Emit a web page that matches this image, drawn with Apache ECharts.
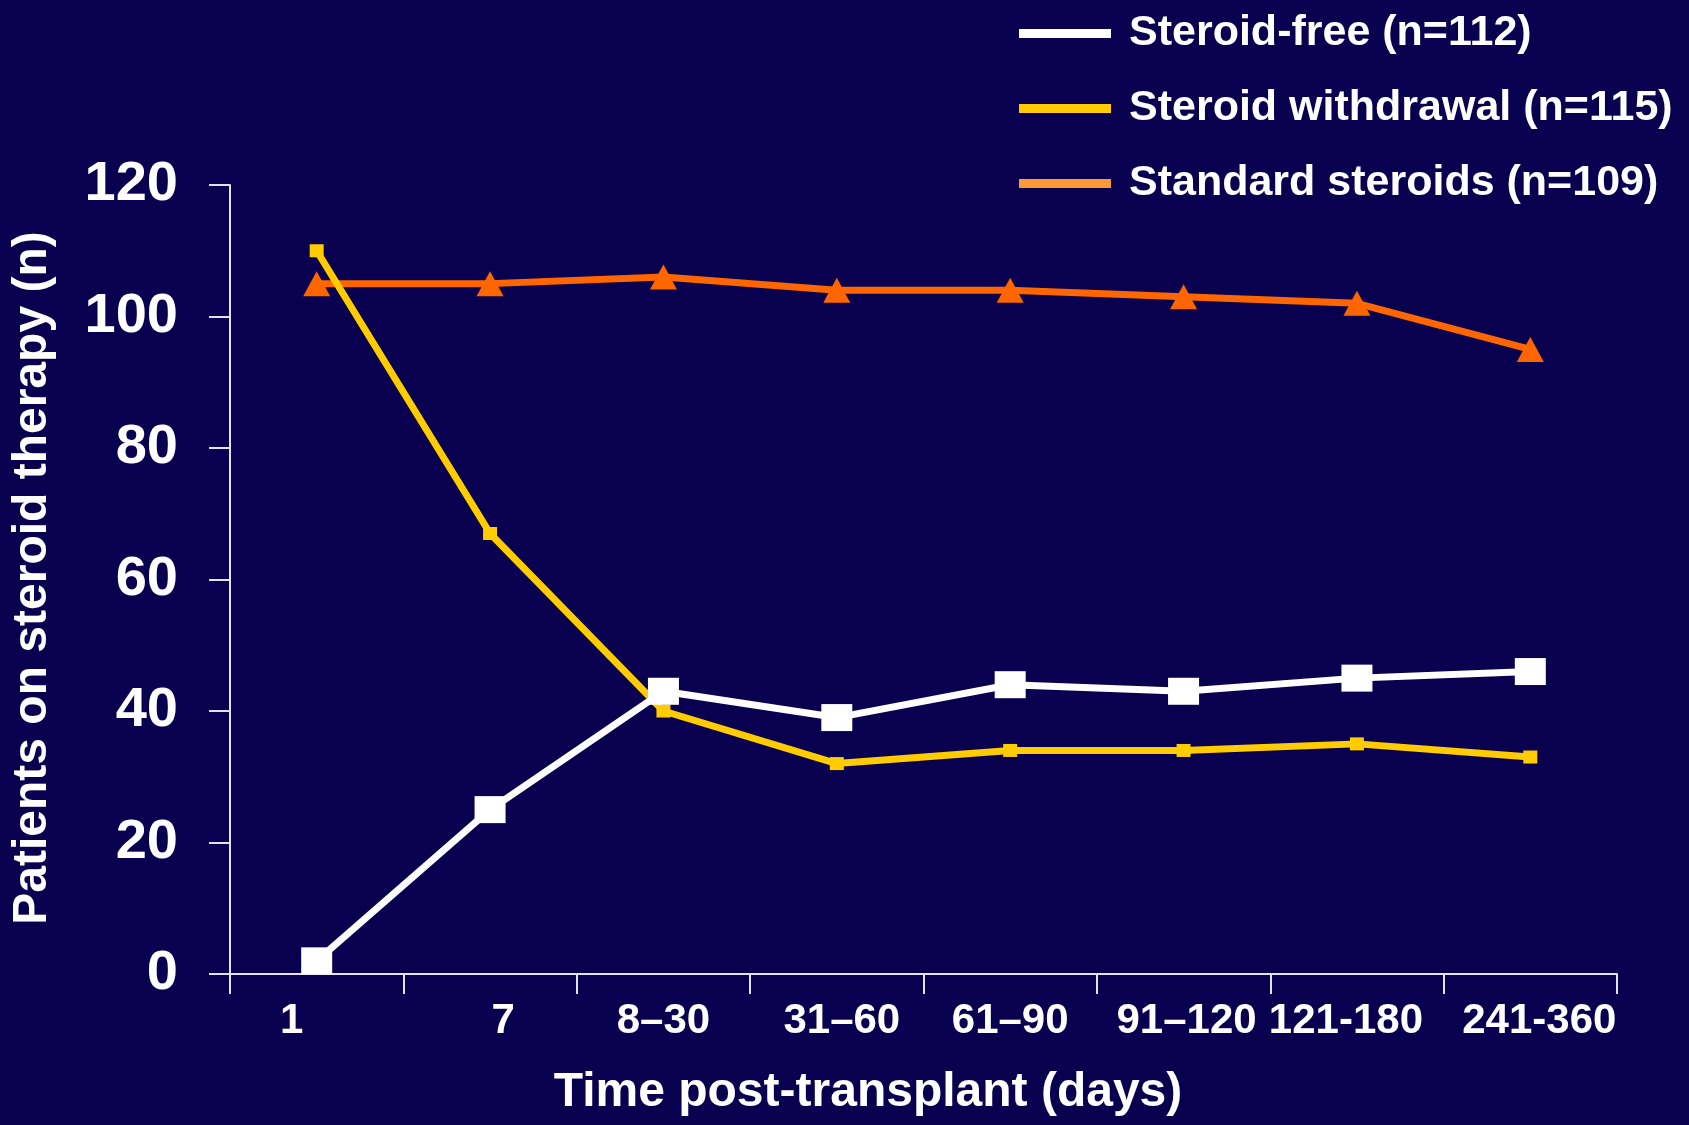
<!DOCTYPE html>
<html>
<head>
<meta charset="utf-8">
<title>Patients on steroid therapy</title>
<script src="https://cdn.jsdelivr.net/npm/echarts@6/dist/echarts.min.js"></script>
<style>
  html, body { margin: 0; padding: 0; background: #0a0050; }
  #chart { width: 1689px; height: 1125px; }
</style>
</head>
<body>
<div id="chart"></div>
<script>
// Time windows after transplant (days)
const categories = ['1', '7', '8–30', '31–60', '61–90', '91–120', '121-180', '241-360'];

// Patients on steroid therapy (n) per arm
const steroidFree = [2, 25, 43, 39, 44, 43, 45, 46];
const steroidWithdrawal = [110, 67, 40, 32, 34, 34, 35, 33];
const standardSteroids = [105, 105, 106, 104, 104, 103, 102, 95];

const seriesNames = ['Steroid-free (n=112)', 'Steroid withdrawal (n=115)', 'Standard steroids (n=109)'];

const FONT = '"Liberation Sans", Arial, sans-serif';
const AXIS_COLOR = '#e4e2f0';

// Horizontal nudges (px) for individual category labels, keyed by position
const labelNudge = [-25, 13, 0, 5, 0, 3, -11, 9];

const tickLabelBase = { color: '#ffffff', fontSize: 42, fontWeight: 'bold', fontFamily: FONT };
const richLabels = {};
labelNudge.forEach(function (dx, i) {
  richLabels['c' + i] = Object.assign({}, tickLabelBase, {
    padding: dx >= 0 ? [0, 0, 0, 2 * dx] : [0, -2 * dx, 0, 0]
  });
});

const chart = echarts.init(document.getElementById('chart'), null, { renderer: 'canvas' });

chart.setOption({
  backgroundColor: '#0a0050',
  animation: false,
  textStyle: { fontFamily: FONT },
  grid: { left: 230, right: 72, top: 185, bottom: 151, containLabel: false },
  legend: {
    orient: 'vertical',
    left: 1014,
    top: 7,
    icon: 'rect',
    itemWidth: 92,
    itemHeight: 9,
    itemGap: 32,
    selectedMode: false,
    textStyle: {
      color: '#ffffff',
      fontSize: 43,
      fontWeight: 'bold',
      fontFamily: FONT,
      lineHeight: 43,
      padding: [0, 0, 0, 13]
    },
    data: [
      { name: seriesNames[0], itemStyle: { color: '#ffffff' } },
      { name: seriesNames[1], itemStyle: { color: '#ffcc00' } },
      { name: seriesNames[2], itemStyle: { color: '#ff9933' } }
    ]
  },
  xAxis: {
    type: 'category',
    data: categories,
    boundaryGap: true,
    axisLine: { show: true, lineStyle: { color: AXIS_COLOR, width: 2 } },
    axisTick: { show: true, length: 20, inside: false, lineStyle: { color: AXIS_COLOR, width: 2 } },
    axisLabel: Object.assign({}, tickLabelBase, {
      interval: 0,
      margin: 26,
      formatter: function (value, index) {
        return '{c' + index + '|' + value + '}';
      },
      rich: richLabels
    }),
    splitLine: { show: false }
  },
  yAxis: {
    type: 'value',
    min: 0,
    max: 120,
    interval: 20,
    axisLine: { show: true, lineStyle: { color: AXIS_COLOR, width: 2 } },
    axisTick: { show: true, length: 21, inside: false, lineStyle: { color: AXIS_COLOR, width: 2 } },
    axisLabel: {
      color: '#ffffff',
      fontSize: 56,
      fontWeight: 'bold',
      fontFamily: FONT,
      margin: 52
    },
    splitLine: { show: false }
  },
  graphic: [
    {
      type: 'text',
      x: 868,
      y: 1093,
      silent: true,
      style: {
        text: 'Time post-transplant (days)',
        fill: '#ffffff',
        font: 'bold 48px ' + FONT,
        align: 'center',
        verticalAlign: 'middle'
      }
    },
    {
      type: 'text',
      x: 33,
      y: 578,
      rotation: Math.PI / 2,
      silent: true,
      style: {
        text: 'Patients on steroid therapy (n)',
        fill: '#ffffff',
        font: 'bold 48px ' + FONT,
        align: 'center',
        verticalAlign: 'middle'
      }
    }
  ],
  series: [
    {
      name: seriesNames[0],
      type: 'line',
      data: steroidFree,
      z: 4,
      symbol: 'rect',
      symbolSize: [31, 27],
      lineStyle: { color: '#ffffff', width: 7 },
      itemStyle: { color: '#ffffff' }
    },
    {
      name: seriesNames[1],
      type: 'line',
      data: steroidWithdrawal,
      z: 3,
      symbol: 'rect',
      symbolSize: [14, 13],
      lineStyle: { color: '#ffcc00', width: 7 },
      itemStyle: { color: '#ffcc00' }
    },
    {
      name: seriesNames[2],
      type: 'line',
      data: standardSteroids,
      z: 2,
      symbol: 'triangle',
      symbolSize: [27, 25],
      lineStyle: { color: '#ff6600', width: 7 },
      itemStyle: { color: '#ff6600' }
    }
  ]
});
</script>
</body>
</html>
